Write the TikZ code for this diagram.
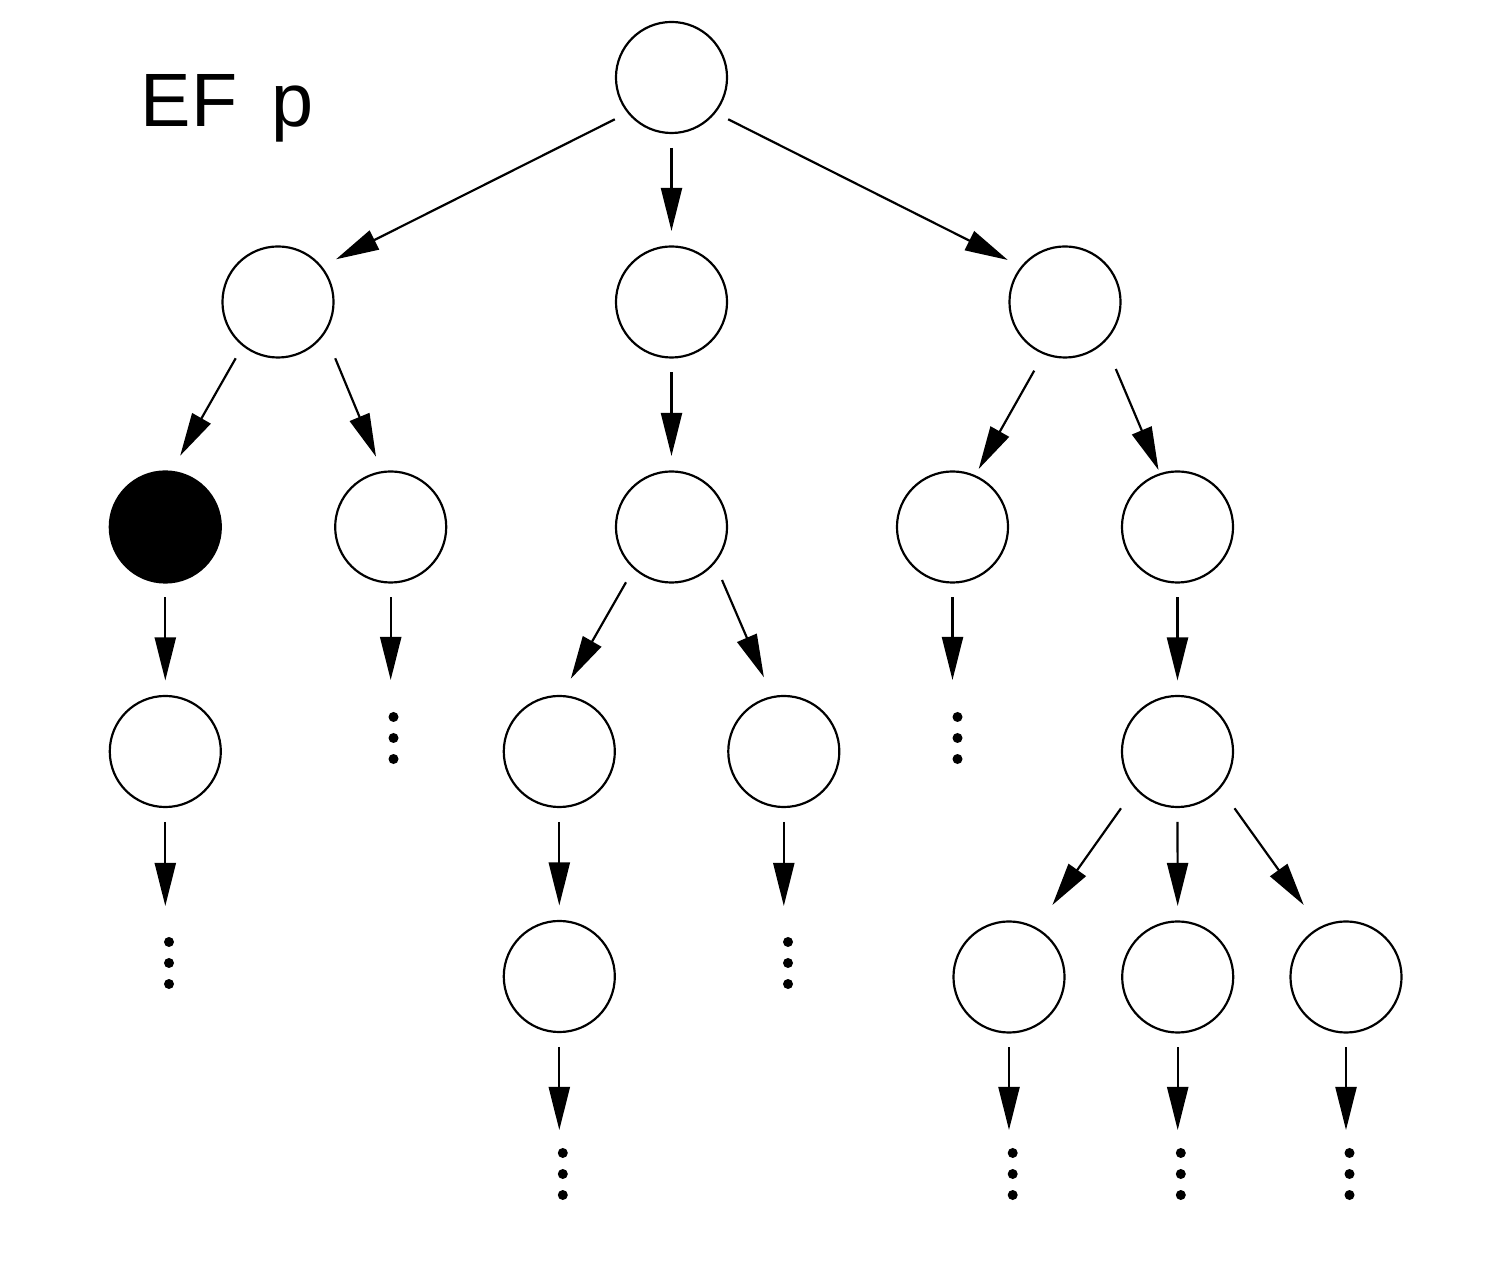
\documentclass[tikz,border=0pt]{standalone}
\usepackage{fontspec}
\setmainfont{Liberation Sans}
\usetikzlibrary{arrows.meta,calc}
\begin{document}
\begin{tikzpicture}[x=0.01cm,y=-0.01cm,
  st/.style={circle,draw,line width=0.62pt,minimum size=1.11cm,inner sep=0pt},
  filledst/.style={st,fill=black},
  arr/.style={-{Triangle[length=0.43cm,width=0.21cm]},line width=0.62pt},
  vdts/.style={rectangle,inner sep=0pt,minimum width=0.12cm,minimum height=0.56cm,
    path picture={\foreach \k in {-1,0,1}
      \fill ($(path picture bounding box.center)+(0,\k*0.21cm)$) circle[radius=0.05cm];}}
]
\useasboundingbox (0,0) rectangle (1494,1274);

% label
\node[font=\fontsize{21.5pt}{25pt}\selectfont,anchor=base west,inner sep=0pt] (lbl) at (140,127) {EF \kern3.7pt p};

% states
\node[st] (root) at (671.5,77.5) {};
\node[st] (a) at (278,302) {};
\node[st] (b) at (671.5,302) {};
\node[st] (c) at (1065,302) {};
\node[filledst] (aa) at (165.3,527) {};
\node[st] (ab) at (390.7,527) {};
\node[st] (ba) at (671.5,527) {};
\node[st] (ca) at (952.5,527) {};
\node[st] (cb) at (1177.5,527) {};
\node[st] (aaa) at (165.3,751.5) {};
\node[st] (baa) at (559.3,751.5) {};
\node[st] (bab) at (783.8,751.5) {};
\node[st] (cba) at (1177.5,751.5) {};
\node[st] (baaa) at (559.3,976.5) {};
\node[st] (cbaa) at (1009,977) {};
\node[st] (cbab) at (1177.7,977) {};
\node[st] (cbac) at (1346,977) {};

% continuation dots
\node[vdts] (dab) at (393.5,738) {};
\node[vdts] (dca) at (957.5,738) {};
\node[vdts] (daaa) at (169,963) {};
\node[vdts] (dbab) at (788,963) {};
\node[vdts] (dbaaa) at (562.8,1174) {};
\node[vdts] (dcbaa) at (1012.7,1174) {};
\node[vdts] (dcbab) at (1180.8,1174) {};
\node[vdts] (dcbac) at (1349.5,1174) {};

% diagonal arrows
\draw[arr] ($(root)+(-56.7,41.8)$) -- ($(a)+(58,-42.7)$);
\draw[arr] ($(root)+(56.7,41.8)$) -- ($(c)+(-57.2,-42)$);
\draw[arr] ($(a)+(-42.3,56.3)$) -- ($(aa)+(14.9,-71.3)$);
\draw[arr] ($(a)+(57.2,56.3)$) -- ($(ab)+(-14.7,-70.3)$);
\draw[arr] ($(c)+(-30.8,68.7)$) -- ($(ca)+(26.2,-58)$);
\draw[arr] ($(c)+(50.8,67)$) -- ($(cb)+(-19,-57)$);
\draw[arr] ($(ba)+(-45.5,55.3)$) -- ($(baa)+(11.5,-72.8)$);
\draw[arr] ($(ba)+(50.5,53)$) -- ($(bab)+(-19.9,-74.2)$);
\draw[arr] ($(cba)+(-56.5,56.8)$) -- ($(cbaa)+(43.4,-72)$);
\draw[arr] ($(cba)+(57,56.8)$) -- ($(cbac)+(-42.3,-72)$);

% vertical arrows between states
\draw[arr] ($(root)+(0,70.5)$) -- ($(b)+(0,-71)$);
\draw[arr] ($(b)+(0,70.5)$) -- ($(ba)+(0,-71)$);
\draw[arr] ($(aa)+(0,70.5)$) -- ($(aaa)+(0,-71)$);
\draw[arr] ($(cb)+(0,70.5)$) -- ($(cba)+(0,-71)$);
\draw[arr] ($(baa)+(0,70.5)$) -- ($(baaa)+(0,-71)$);
\draw[arr] ($(cba)+(0,70.5)$) -- ($(cbab)+(0,-71)$);

% vertical arrows to continuation dots
\draw[arr] ($(ab)+(0,70.5)$) -- ($(ab |- dab)+(0,-58)$);
\draw[arr] ($(ca)+(0,70.5)$) -- ($(ca |- dca)+(0,-58)$);
\draw[arr] ($(aaa)+(0,70.5)$) -- ($(aaa |- daaa)+(0,-57)$);
\draw[arr] ($(bab)+(0,70.5)$) -- ($(bab |- dbab)+(0,-57)$);
\draw[arr] ($(baaa)+(0,70.5)$) -- ($(baaa |- dbaaa)+(0,-44)$);
\draw[arr] ($(cbaa)+(0,70.5)$) -- ($(cbaa |- dcbaa)+(0,-44)$);
\draw[arr] ($(cbab)+(0,70.5)$) -- ($(cbab |- dcbab)+(0,-44)$);
\draw[arr] ($(cbac)+(0,70.5)$) -- ($(cbac |- dcbac)+(0,-44)$);
\end{tikzpicture}
\end{document}
